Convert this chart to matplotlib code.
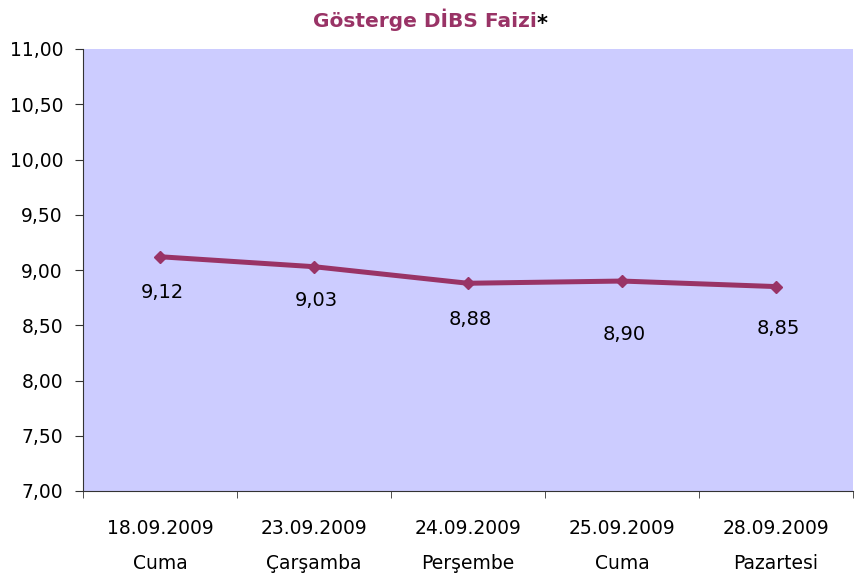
import matplotlib
matplotlib.use("Agg")
import matplotlib.pyplot as plt
import numpy as np

dates = ["18.09.2009", "23.09.2009", "24.09.2009", "25.09.2009", "28.09.2009"]
days = ["Cuma", "Çarşamba", "Perşembe", "Cuma", "Pazartesi"]
values = [9.12, 9.03, 8.88, 8.90, 8.85]
label_drop = [36, 34, 36, 53, 42]  # pixel offset of the value labels below points

plt.rcParams["font.family"] = ["DejaVu Sans"]

fig = plt.figure(figsize=(8.61, 5.78), dpi=100)
ax = fig.add_axes([83 / 861, 87 / 578, 770 / 861, 442 / 578])
ax.set_facecolor("#ccccff")

x = np.arange(len(values))
ax.plot(x, values, "-D", color="#993366", lw=3.6, markersize=6.5)
for xi, v, d in zip(x, values, label_drop):
    ax.annotate(f"{v:.2f}".replace(".", ","), (xi, v), xytext=(2, -d),
                textcoords="offset pixels", ha="center", va="center", fontsize=14)

ax.set_xlim(-0.5, len(values) - 0.5)
ax.set_ylim(7, 11)
yt = np.arange(7, 11.01, 0.5)
ax.set_yticks(yt)
ax.set_yticklabels([f"{t:.2f}".replace(".", ",") for t in yt], fontsize=13.5)
ax.set_xticks(x)
ax.set_xticklabels([f"{d}\n{n}" for d, n in zip(dates, days)], fontsize=13.5,
                   linespacing=2.05)
ax.set_xticks(np.arange(-0.5, len(values)), minor=True)
ax.tick_params(axis="x", which="major", length=0, pad=20)
ax.tick_params(axis="x", which="minor", length=5, color="#333333")
ax.tick_params(axis="y", length=5.8, color="#333333", pad=8.6)

for s in ["top", "right"]:
    ax.spines[s].set_visible(False)
for s in ["left", "bottom"]:
    ax.spines[s].set_color("#333333")

fig.text(537 / 861, 1 - 27 / 578, "Gösterge DİBS Faizi", ha="right", va="baseline",
         fontsize=14.5, fontweight="bold", color="#993366")
fig.text(537 / 861, 1 - 30 / 578, "*", ha="left", va="baseline",
         fontsize=15, fontweight="bold", color="black")

fig.savefig("out.png", dpi=100)
